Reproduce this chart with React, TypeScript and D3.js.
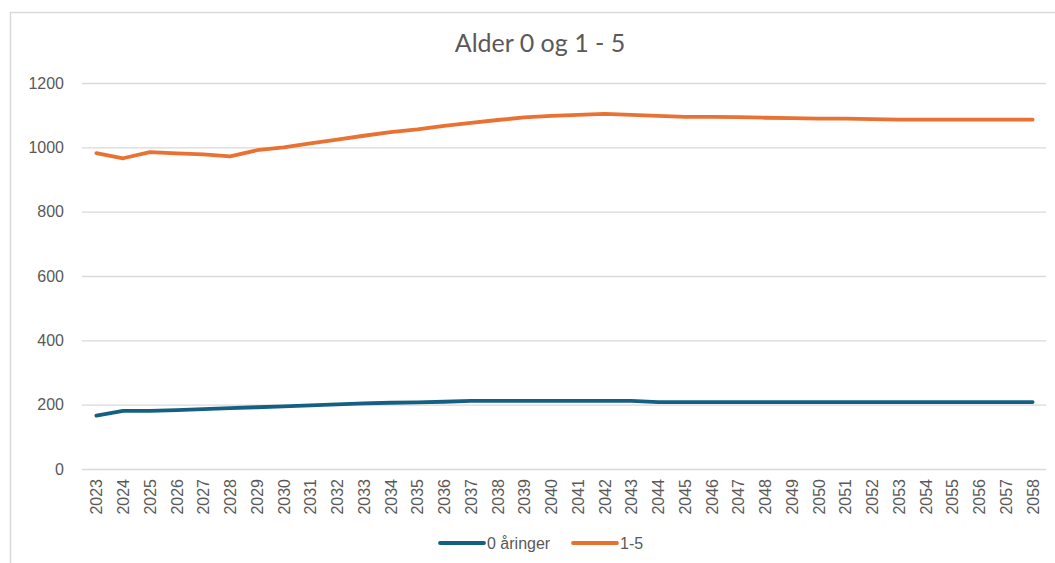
import { useEffect, useRef } from 'react';
import * as d3 from 'd3';

const years = [
  2023, 2024, 2025, 2026, 2027, 2028, 2029, 2030, 2031, 2032, 2033, 2034,
  2035, 2036, 2037, 2038, 2039, 2040, 2041, 2042, 2043, 2044, 2045, 2046,
  2047, 2048, 2049, 2050, 2051, 2052, 2053, 2054, 2055, 2056, 2057, 2058,
];

const nullAaringer = [
  166, 181, 181, 183, 186, 189, 192, 195, 198, 201, 204, 206,
  207, 209, 212, 212, 212, 212, 212, 212, 212, 208, 208, 208,
  208, 208, 208, 208, 208, 208, 208, 208, 208, 208, 208, 208,
];

const enTilFem = [
  982, 966, 985, 981, 978, 972, 991, 1000, 1012, 1024, 1036, 1047,
  1056, 1067, 1076, 1085, 1093, 1098, 1101, 1104, 1101, 1098, 1095, 1095,
  1094, 1092, 1091, 1089, 1089, 1088, 1086, 1086, 1086, 1086, 1086, 1086,
];

const yTicks = [0, 200, 400, 600, 800, 1000, 1200];

const series = [
  { name: '0 åringer', values: nullAaringer, color: '#156082' },
  { name: '1-5', values: enTilFem, color: '#E97132' },
];

export default function App() {
  const svgRef = useRef<SVGSVGElement>(null);

  useEffect(() => {
    if (!svgRef.current) return;
    const width = 1055;
    const height = 563;
    const font = 'Arial, "Liberation Sans", sans-serif';
    const textColor = '#595959';

    const svg = d3.select(svgRef.current);
    svg.selectAll('*').remove();

    // chart frame
    svg.append('rect')
      .attr('x', 10.5)
      .attr('y', 12.5)
      .attr('width', 1060)
      .attr('height', 570)
      .attr('fill', '#fff')
      .attr('stroke', '#d9d9d9')
      .attr('stroke-width', 1.5);

    const x = d3.scalePoint<number>()
      .domain(years)
      .range([83, 1046])
      .padding(0.5);

    const y = d3.scaleLinear()
      .domain([0, 1200])
      .range([469, 83]);

    // title
    svg.append('text')
      .attr('x', 540)
      .attr('y', 52)
      .attr('text-anchor', 'middle')
      .style('font-family', 'Lato, "Open Sans", sans-serif')
      .style('font-size', '25px')
      .style('fill', textColor)
      .text('Alder 0 og 1 - 5');

    // grid + y labels
    const yAxis = svg.append('g')
      .attr('transform', 'translate(82,0)')
      .call(
        d3.axisLeft(y)
          .tickValues(yTicks)
          .tickFormat(d3.format('d'))
          .tickSize(-(1046 - 82))
          .tickPadding(18)
      );
    yAxis.select('.domain').remove();
    yAxis.selectAll('line')
      .attr('stroke', '#d9d9d9')
      .attr('stroke-width', 1.3);
    yAxis.selectAll('text')
      .style('font-family', font)
      .style('font-size', '16px')
      .style('fill', textColor);

    // x labels
    const xAxis = svg.append('g')
      .attr('transform', `translate(0,${y(0)})`)
      .call(d3.axisBottom(x).tickSize(0).tickPadding(0));
    xAxis.select('.domain').remove();
    xAxis.selectAll('text')
      .attr('transform', 'rotate(-90)')
      .attr('x', -10)
      .attr('y', 0)
      .attr('dy', '0.35em')
      .style('text-anchor', 'end')
      .style('font-family', font)
      .style('font-size', '16px')
      .style('fill', textColor);

    const line = d3.line<number>()
      .x((_, i) => x(years[i]) ?? 0)
      .y(d => y(d));

    series.forEach(s => {
      svg.append('path')
        .datum(s.values)
        .attr('fill', 'none')
        .attr('stroke', s.color)
        .attr('stroke-width', 3.8)
        .attr('stroke-linecap', 'round')
        .attr('stroke-linejoin', 'round')
        .attr('d', line);
    });

    // legend
    const legendItems = [
      { ...series[0], x: 440 },
      { ...series[1], x: 573 },
    ];
    legendItems.forEach(item => {
      const g = svg.append('g').attr('transform', `translate(${item.x},543)`);
      g.append('line')
        .attr('x1', 0)
        .attr('x2', 44)
        .attr('stroke', item.color)
        .attr('stroke-width', 3.8)
        .attr('stroke-linecap', 'round');
      g.append('text')
        .attr('x', 47)
        .attr('dy', '0.35em')
        .style('font-family', font)
        .style('font-size', '16px')
        .style('fill', textColor)
        .text(item.name);
    });

    svg.attr('width', width).attr('height', height);
  }, []);

  return (
    <svg
      ref={svgRef}
      width={1055}
      height={563}
      style={{ position: 'absolute', left: 0, top: 0, display: 'block', background: '#fff' }}
    />
  );
}
